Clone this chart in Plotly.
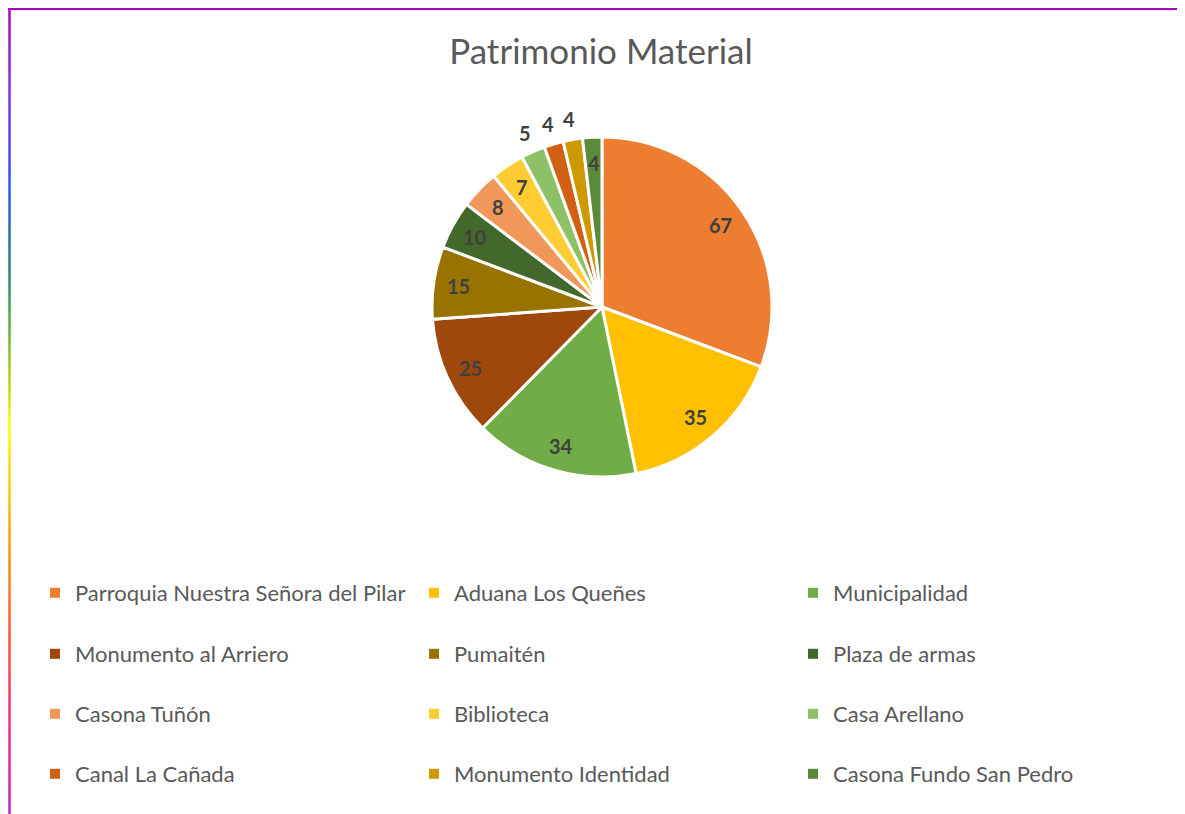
import math
import plotly.graph_objects as go

# page is offset by the 8px body margin; figure fits inside the window
PAGE_W, PAGE_H, OFF = 1185, 814, 8
W, H = PAGE_W - OFF, PAGE_H - OFF

title_text = "Patrimonio Material"
categories = [
    "Parroquia Nuestra Señora del Pilar", "Aduana Los Queñes", "Municipalidad",
    "Monumento al Arriero", "Pumaitén", "Plaza de armas",
    "Casona Tuñón", "Biblioteca", "Casa Arellano",
    "Canal La Cañada", "Monumento Identidad", "Casona Fundo San Pedro",
]
values = [67, 35, 34, 25, 15, 10, 8, 7, 5, 4, 4, 4]
colors = [
    "#ED7D31", "#FFC000", "#70AD47",
    "#9E480E", "#997300", "#43682B",
    "#F1975A", "#FFCD33", "#8CC168",
    "#D26012", "#CC9A00", "#5A8A3A",
]
label_outside = [False] * 8 + [True] * 3 + [False]


def px_x(x):  # page pixel -> paper
    return (x - OFF) / W


def px_y(y):
    return 1 - (y - OFF) / H


fig = go.Figure()

cx, cy, r = 602, 307, 170
fig.add_trace(go.Pie(
    labels=categories, values=values, sort=False, direction="clockwise", rotation=0,
    marker=dict(colors=colors, line=dict(color="white", width=3)),
    textinfo="none", showlegend=False, hoverinfo="label+value",
    domain=dict(x=[px_x(cx - r), px_x(cx + r)], y=[px_y(cy + r), px_y(cy - r)]),
))

# data labels, placed at each slice's mid-angle (Excel style)
total = sum(values)
annotations = []
cum = 0
for v, out in zip(values, label_outside):
    theta = 2 * math.pi * (cum + v / 2) / total
    cum += v
    k = 1.12 if out else 0.85
    annotations.append(dict(
        x=px_x(cx + k * r * math.sin(theta)), y=px_y(cy - k * r * math.cos(theta)),
        xref="paper", yref="paper", text=str(v), showarrow=False,
        xanchor="center", yanchor="middle",
        font=dict(family="Lato", size=20, color="#404040", weight="bold"),
    ))

# legend entries (4 rows of 3)
legend_names = ["legend", "legend2", "legend3", "legend4"]
for i, (name, col) in enumerate(zip(categories, colors)):
    fig.add_trace(go.Scatter(
        x=[None], y=[None], mode="markers", name=name,
        marker=dict(symbol="square", size=10, color=col),
        legend=legend_names[i // 3], showlegend=True,
    ))

row_y = [593, 654, 714, 774]
leg_common = dict(orientation="h", x=px_x(35), xanchor="left", yanchor="middle",
                  entrywidth=334, entrywidthmode="pixels",
                  font=dict(family="Lato", size=22, color="#595959"),
                  bgcolor="rgba(0,0,0,0)", itemclick=False, itemdoubleclick=False)
layout_legends = {}
for ln, yy in zip(legend_names, row_y):
    layout_legends[ln] = dict(leg_common, y=px_y(yy))

# border: top line + vertical gradient on the left
shapes = [dict(type="line", xref="paper", yref="paper", x0=px_x(8), x1=1, y0=px_y(9), y1=px_y(9),
               line=dict(color="#A800C0", width=2))]
stops = [(8, (176, 0, 192)), (83, (138, 43, 224)), (180, (48, 80, 255)), (267, (40, 128, 128)),
         (305, (64, 160, 80)), (395, (200, 224, 0)), (425, (255, 255, 0)), (530, (255, 165, 0)),
         (640, (255, 80, 48)), (705, (255, 48, 112)), (814, (192, 32, 208))]


def grad(y):
    for (y0, c0), (y1, c1) in zip(stops[:-1], stops[1:]):
        if y0 <= y <= y1:
            t = (y - y0) / (y1 - y0)
            return "rgb(%d,%d,%d)" % tuple(round(a + (b - a) * t) for a, b in zip(c0, c1))
    return "rgb(%d,%d,%d)" % stops[-1][1]


step = 4
yy = 8
while yy < PAGE_H:
    shapes.append(dict(type="line", xref="paper", yref="paper", x0=px_x(9.5), x1=px_x(9.5),
                       y0=px_y(yy), y1=px_y(min(yy + step, PAGE_H)),
                       line=dict(color=grad(yy + step / 2), width=2.5)))
    yy += step

fig.update_layout(
    width=W, height=H, margin=dict(l=0, r=0, t=0, b=0),
    paper_bgcolor="white", plot_bgcolor="white",
    title=dict(text=title_text, x=px_x(601), xanchor="center", y=px_y(52), yanchor="middle",
               font=dict(family="Lato", size=35, color="#595959")),
    xaxis=dict(visible=False), yaxis=dict(visible=False),
    shapes=shapes, annotations=annotations,
    **layout_legends,
)

fig.write_html("out.html")
